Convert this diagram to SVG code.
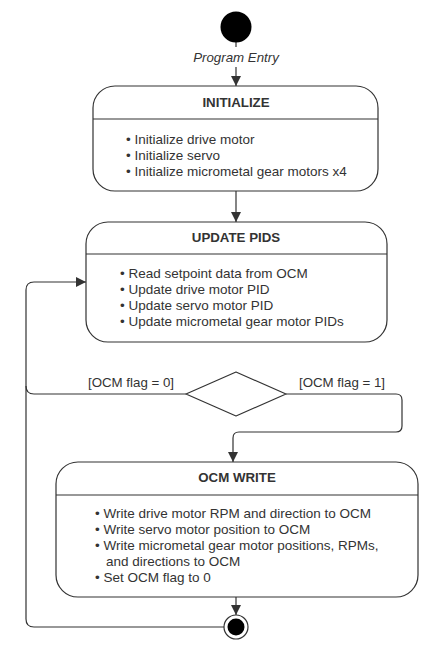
<svg xmlns="http://www.w3.org/2000/svg" width="441" height="652" viewBox="0 0 441 652">
<style>
  text { font-family: "Liberation Sans", Arial, sans-serif; font-size: 13.5px; fill: #333; }
  .title { font-weight: bold; text-anchor: middle; font-size: 13.3px; }
  .lbl { text-anchor: middle; font-size: 13.3px; }
  .box { fill: #fff; stroke: #333; stroke-width: 1.2; }
  .div { stroke: #333; stroke-width: 1.2; }
  .conn { fill: none; stroke: #333; stroke-width: 1.2; }
</style>
<defs>
  <marker id="arr" viewBox="0 0 10 10" refX="10" refY="5" markerWidth="10" markerHeight="10" markerUnits="userSpaceOnUse" orient="auto">
    <path d="M0,0 L10,5 L0,10 Z" fill="#333"/>
  </marker>
</defs>
<rect width="441" height="652" fill="#fff"/>

<g id="connectors">
  <line class="conn" x1="236" y1="42" x2="236" y2="47"/>
  <line class="conn" x1="236" y1="67" x2="236" y2="86" marker-end="url(#arr)"/>
  <line class="conn" x1="236" y1="191" x2="236" y2="222" marker-end="url(#arr)"/>
  <path class="conn" d="M186,394 H34 Q26,394 26,386 V290 Q26,282 34,282 H86" marker-end="url(#arr)"/>
  <path class="conn" d="M286,394 H396 Q402,394 402,400 V426 Q402,432 396,432 H239 Q233,432 233,438 V462" marker-end="url(#arr)"/>
  <line class="conn" x1="236" y1="597" x2="236" y2="615" marker-end="url(#arr)"/>
  <path class="conn" d="M224,627 H34 Q26,627 26,619 V386"/>
  <text x="131" y="387" class="lbl">[OCM flag = 0]</text>
  <text x="342" y="387" class="lbl">[OCM flag = 1]</text>
</g>

<g id="start">
  <circle cx="236" cy="27" r="15.5" fill="#000"/>
  <text x="236" y="62" class="lbl" font-style="italic">Program Entry</text>
</g>

<g id="initialize">
  <rect class="box" x="93" y="86" width="285" height="105" rx="22"/>
  <line class="div" x1="93" y1="119" x2="378" y2="119"/>
  <text x="236" y="107" class="title">INITIALIZE</text>
  <text x="126" y="144">• Initialize drive motor</text>
  <text x="126" y="160">• Initialize servo</text>
  <text x="126" y="176">• Initialize micrometal gear motors x4</text>
</g>

<g id="update-pids">
  <rect class="box" x="86" y="222" width="301" height="120" rx="22"/>
  <line class="div" x1="86" y1="254" x2="387" y2="254"/>
  <text x="236" y="242" class="title">UPDATE PIDS</text>
  <text x="120" y="278">• Read setpoint data from OCM</text>
  <text x="120" y="294">• Update drive motor PID</text>
  <text x="120" y="310">• Update servo motor PID</text>
  <text x="120" y="326">• Update micrometal gear motor PIDs</text>
</g>

<g id="decision">
  <path class="box" d="M236,372 L286,394 L236,416 L186,394 Z" stroke-linejoin="round"/>
</g>

<g id="ocm-write">
  <rect class="box" x="56" y="462" width="362" height="135" rx="22"/>
  <line class="div" x1="56" y1="495" x2="418" y2="495"/>
  <text x="237" y="482" class="title">OCM WRITE</text>
  <text x="95" y="518">• Write drive motor RPM and direction to OCM</text>
  <text x="95" y="534">• Write servo motor position to OCM</text>
  <text x="95" y="550">• Write micrometal gear motor positions, RPMs,</text>
  <text x="106" y="566">and directions to OCM</text>
  <text x="95" y="582">• Set OCM flag to 0</text>
</g>

<g id="end">
  <circle cx="236" cy="627" r="12" fill="#fff" stroke="#333" stroke-width="1.2"/>
  <circle cx="236" cy="627" r="8.5" fill="#000"/>
</g>
</svg>
